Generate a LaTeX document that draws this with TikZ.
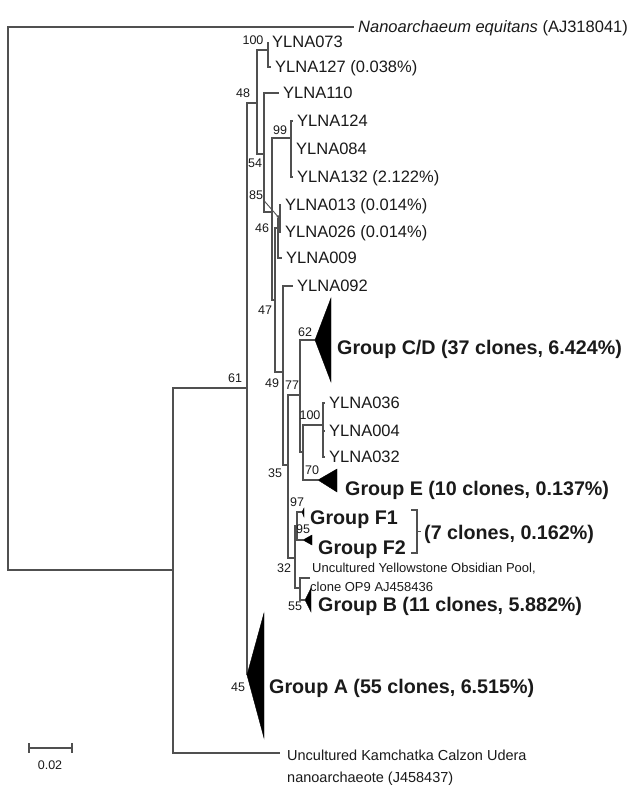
\documentclass[tikz,border=0pt]{standalone}
\usepackage{fontspec}
\setmainfont{Liberation Sans}
\usetikzlibrary{calc,arrows.meta}
\definecolor{ln}{HTML}{505050}
\definecolor{tx}{HTML}{1A1A1A}
\begin{document}
\begin{tikzpicture}[x=1pt,y=-1pt,
  br/.style={draw=ln, line width=1.3pt},
  leaf/.style={font=\fontsize{16.5}{18}\selectfont, text=tx, anchor=west, inner sep=0pt, text height=11.8pt, text depth=0pt},
  note/.style={font=\fontsize{14.5}{16}\selectfont, text=tx, anchor=west, inner sep=0pt, text height=10.4pt, text depth=0pt},
  smallnote/.style={font=\fontsize{13}{15}\selectfont, text=tx, anchor=west, inner sep=0pt, text height=9.3pt, text depth=0pt},
  boot/.style={font=\fontsize{12.5}{14}\selectfont, text=tx, inner sep=0pt},
  grp/.style={font=\bfseries\fontsize{19.7}{22}\selectfont, text=tx, anchor=west, inner sep=0pt, text height=14pt, text depth=0pt},
  tri/.style={fill=black, draw=black, line width=0.4pt, line join=miter}]
\useasboundingbox[fill=white] (0,0) rectangle (630,787);
% ---- node coordinates ----
\coordinate (R) at (8,300);
\coordinate (K) at (173,570);
\coordinate (N61) at (247,388);
\coordinate (N48) at (257,103);
\coordinate (N100) at (268,50);
\coordinate (N54) at (264,154);
\coordinate (Na) at (272,212);
\coordinate (N99) at (291,138);
\coordinate (Nb) at (275,300);
\coordinate (N46) at (278,228);
\coordinate (N85) at (280,219);
\coordinate (N49) at (283,372);
\coordinate (N35) at (288,465);
\coordinate (N77) at (300,395);
\coordinate (Nx) at (303,452);
\coordinate (N100b) at (323,425);
\coordinate (NFB) at (295,558);
\coordinate (NF) at (297,526);
\coordinate (NB) at (300,588);
% tips
\coordinate (tNano) at (354,27);
\coordinate (t073) at (268,42);
\coordinate (t127) at (271,67);
\coordinate (t110) at (279,93);
\coordinate (t124) at (293,121);
\coordinate (t084) at (292,149);
\coordinate (t132) at (293,177);
\coordinate (t013) at (281,205);
\coordinate (t026) at (281,232);
\coordinate (t009) at (282,258);
\coordinate (t092) at (293,286);
\coordinate (t036) at (325,403);
\coordinate (t004) at (325,431);
\coordinate (t032) at (325,457);
\coordinate (tYel) at (310,578);
\coordinate (tKam) at (280,753);
% collapsed group apices
\coordinate (aCD) at (315,340);
\coordinate (aE) at (318,480);
\coordinate (aF1) at (302,512);
\coordinate (aF2) at (303,540);
\coordinate (aB) at (305,600);
\coordinate (aA) at (247,675);
% ---- branches ----
\draw[br] (R) |- (tNano);
\draw[br] (R) |- (K);
\draw[br] (K) |- (N61);
\draw[br] (K) |- (tKam);
\draw[br] (N61) |- (N48);
\draw[br] (N61) |- (aA);
\draw[br] (N48) |- (N100);
\draw[br] (N48) |- (N54);
\draw[br] (N100) |- (t073);
\draw[br] (N100) |- (t127);
\draw[br] (N54) |- (t110);
\draw[br] (N54) |- (Na);
\draw[br] (Na) |- (N99);
\draw[br] (Na) |- (Nb);
\draw[br] (N99) |- (t124);
\draw[br] (N99) |- (t084);
\draw[br] (N99) |- (t132);
\draw[br] (Nb) |- (N46);
\draw[br] (Nb) |- (N49);
\draw[br] (N46) |- (N85);
\draw[br] (N46) |- (t009);
\draw[br] (N85) |- (t013);
\draw[br] (N85) |- (t026);
\draw[br] (N49) |- (t092);
\draw[br] (N49) |- (N35);
\draw[br] (N35) |- (N77);
\draw[br] (N35) |- (NFB);
\draw[br] (N77) |- (aCD);
\draw[br] (N77) |- (Nx);
\draw[br] (Nx) |- (N100b);
\draw[br] (Nx) |- (aE);
\draw[br] (N100b) |- (t036);
\draw[br] (N100b) |- (t004);
\draw[br] (N100b) |- (t032);
\draw[br] (NFB) |- (NF);
\draw[br] (NFB) |- (NB);
\draw[br] (NF) |- (aF1);
\draw[br] (NF) |- (aF2);
\draw[br] (NB) |- (tYel);
\draw[br] (NB) |- (aB);
% ---- collapsed groups ----
\fill[tri] (aCD) -- ++(16,-42) -- ++(0,84) -- cycle;
\fill[tri] (aE) -- ++(19,-11) -- ++(0,23) -- cycle;
\fill[tri] (aF1) -- ++(2,-4) -- ++(0,9) -- cycle;
\fill[tri] (aF2) -- ++(9,-5) -- ++(0,10) -- cycle;
\fill[tri] (aB) -- ++(6,-12) -- ++(0,24) -- cycle;
\fill[tri] (aA) -- ++(17,-62) -- ++(0,125) -- cycle;
% ---- leaf labels ----
\node[leaf] (lNano) at ([xshift=4pt]tNano) {\textit{Nanoarchaeum equitans} (AJ318041)};
\node[leaf] (l073) at ([xshift=4pt]t073) {YLNA073};
\node[leaf] (l127) at ([xshift=4pt]t127) {YLNA127 (0.038\%)};
\node[leaf] (l110) at ([xshift=4pt]t110) {YLNA110};
\node[leaf] (l124) at ([xshift=4pt]t124) {YLNA124};
\node[leaf] (l084) at ([xshift=4pt]t084) {YLNA084};
\node[leaf] (l132) at ([xshift=4pt]t132) {YLNA132 (2.122\%)};
\node[leaf] (l013) at ([xshift=4pt]t013) {YLNA013 (0.014\%)};
\node[leaf] (l026) at ([xshift=4pt]t026) {YLNA026 (0.014\%)};
\node[leaf] (l009) at ([xshift=4pt]t009) {YLNA009};
\node[leaf] (l092) at ([xshift=4pt]t092) {YLNA092};
\node[leaf] (l036) at ([xshift=4pt]t036) {YLNA036};
\node[leaf] (l004) at ([xshift=4pt]t004) {YLNA004};
\node[leaf] (l032) at ([xshift=4pt]t032) {YLNA032};
\node[smallnote] (lYel1) at (312,568) {Uncultured Yellowstone Obsidian Pool,};
\node[smallnote] (lYel2) at (310,587) {clone OP9 AJ458436};
\node[note] (lKam1) at (287,755) {Uncultured Kamchatka Calzon Udera};
\node[note] (lKam2) at (287,777) {nanoarchaeote (J458437)};
% ---- group labels ----
\node[grp] (gCD) at (337,347) {Group C/D (37 clones, 6.424\%)};
\node[grp] (gE) at (345,488) {Group E (10 clones, 0.137\%)};
\node[grp] (gF1) at (310,517) {Group F1};
\node[grp] (gF2) at (318,547) {Group F2};
\node[grp] (gF) at (424,532) {(7 clones, 0.162\%)};
\node[grp] (gB) at (318,604) {Group B (11 clones, 5.882\%)};
\node[grp] (gA) at (269,686) {Group A (55 clones, 6.515\%)};
\coordinate (brT) at (411,510);
\coordinate (brB) at (411,553);
\draw[ln, line width=1.1pt] (brT) -- ++(6,0) |- (brB);
\draw[ln, line width=1.1pt] ([xshift=6pt]$(brT)!0.5!(brB)$) -- ++(4,0);
% ---- bootstrap values ----
\node[boot] (b100) at (253,40) {100};
\node[boot] (b48) at (243,93) {48};
\node[boot] (b99) at (280,130) {99};
\node[boot] (b54) at (255,163) {54};
\node[boot] (b85) at (256,195) {85};
\node[boot] (b46) at (262,228) {46};
\node[boot] (b47) at (265,310) {47};
\node[boot] (b61) at (235,378) {61};
\node[boot] (b49) at (272,383) {49};
\node[boot] (b77) at (292,385) {77};
\node[boot] (b62) at (305,332) {62};
\node[boot] (b100b) at (310,415) {100};
\node[boot] (b70) at (312,470) {70};
\node[boot] (b35) at (275,473) {35};
\node[boot] (b97) at (297,502) {97};
\node[boot] (b95) at (303,529) {95};
\node[boot] (b32) at (284,568) {32};
\node[boot] (b55) at (295,606) {55};
\node[boot] (b45) at (238,687) {45};
\draw[ln, line width=0.9pt, -{Latex[length=4pt,width=3pt]}] (b85.south east) -- (N85);
% ---- scale bar ----
\coordinate (sL) at (29,748);
\coordinate (sR) at (72,748);
\draw[ln, line width=1.3pt] (sL) -- (sR);
\draw[ln, line width=1.3pt] ([yshift=5pt]sL) -- ([yshift=-5pt]sL);
\draw[ln, line width=1.3pt] ([yshift=5pt]sR) -- ([yshift=-5pt]sR);
\node[boot] (sc) at (50,765) {0.02};
\end{tikzpicture}
\end{document}
